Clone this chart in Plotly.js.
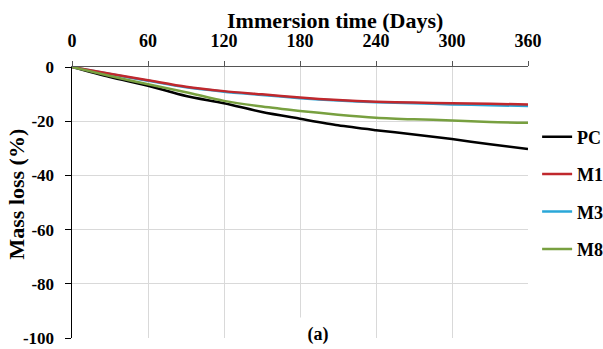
<!DOCTYPE html>
<html>
<head>
<meta charset="utf-8">
<script src="https://cdn.plot.ly/plotly-3.0.1.min.js"></script>
<style>
  html, body { margin: 0; padding: 0; background: #fff; }
  #chart { width: 603px; height: 349px; }
</style>
</head>
<body>
<div id="chart"></div>
<script>
// Immersion time in days
const days = [0, 30, 60, 90, 120, 150, 180, 210, 240, 270, 300, 330, 360];

// Mass loss (%) per mix
const massPC = [0, -3.7, -6.9, -10.7, -13.4, -16.6, -19.1, -21.5, -23.3, -24.9, -26.6, -28.5, -30.3];
const massM1 = [0, -2.5, -4.9, -7.3, -8.9, -10.1, -11.3, -12.2, -12.8, -13.1, -13.4, -13.6, -13.8];
const massM3 = [0, -2.6, -5.1, -7.5, -9.1, -10.3, -11.5, -12.4, -13.0, -13.4, -13.8, -14.1, -14.4];
const massM8 = [0, -3.3, -6.4, -9.3, -12.5, -14.6, -16.2, -17.6, -18.7, -19.3, -19.7, -20.3, -20.6];

const seriesNames = ['PC', 'M1', 'M3', 'M8'];
const seriesData = [massPC, massM1, massM3, massM8];
const seriesColors = ['#000000', '#c0282d', '#2aa7d8', '#78a040'];

const xTicks = [0, 60, 120, 180, 240, 300, 360];
const yTicks = [0, -20, -40, -60, -80, -100];

const font = 'Liberation Serif, Times New Roman, serif';

// M3 is drawn beneath M1, so the traces go in back-to-front order
const order = [0, 2, 1, 3];
const traces = [];
order.forEach(i => {
  traces.push({
    x: days,
    y: seriesData[i],
    name: seriesNames[i],
    legendgroup: seriesNames[i],
    type: 'scatter',
    mode: 'lines',
    line: { color: seriesColors[i], width: 2.5, shape: 'spline', smoothing: 0.8 },
    legendrank: i + 1
  });
});

const layout = {
  width: 603,
  height: 349,
  margin: { l: 72, r: 75, t: 67, b: 11, autoexpand: false },
  paper_bgcolor: '#ffffff',
  plot_bgcolor: '#ffffff',
  font: { family: font, color: '#000', size: 17 },
  showlegend: true,
  legend: {
    x: 1.02, xanchor: 'left',
    y: 0.81, yanchor: 'top',
    font: { family: font, size: 18, color: '#000', weight: 'bold' },
    tracegroupgap: 11,
    itemwidth: 30,
    bgcolor: 'rgba(0,0,0,0)'
  },
  xaxis: {
    side: 'top',
    range: [0, 360],
    tickvals: xTicks,
    ticktext: xTicks.map(String),
    showgrid: true,
    gridcolor: '#d9d9d9',
    gridwidth: 1,
    zeroline: false,
    showline: true,
    linecolor: '#555555',
    linewidth: 1.5,
    ticks: 'outside',
    ticklen: 5,
    tickcolor: '#555555',
    ticklabelstandoff: 6,
    ticklabeloverflow: 'allow',
    tickfont: { family: font, size: 18, color: '#000', weight: 'bold' },
    automargin: false,
    fixedrange: true
  },
  yaxis: {
    range: [-100, 0],
    tickvals: yTicks,
    ticktext: yTicks.map(String),
    showgrid: true,
    gridcolor: '#d9d9d9',
    gridwidth: 1,
    zeroline: false,
    showline: true,
    linecolor: '#000000',
    linewidth: 1.5,
    ticks: 'outside',
    ticklen: 6,
    tickcolor: '#000',
    ticklabelstandoff: 7,
    ticklabeloverflow: 'allow',
    tickfont: { family: font, size: 17, color: '#000', weight: 'bold' },
    automargin: false,
    fixedrange: true
  },
  annotations: [
    {
      // top axis title
      text: 'Immersion time (Days)',
      xref: 'paper', yref: 'paper',
      x: 0.577, y: 1.0, yshift: 47,
      xanchor: 'center', yanchor: 'middle',
      showarrow: false,
      font: { family: font, size: 22, color: '#000', weight: 'bold' }
    },
    {
      // left axis title
      text: 'Mass loss (%)',
      xref: 'paper', yref: 'paper',
      x: 0, xshift: -56, y: 0.5, yshift: 8,
      xanchor: 'center', yanchor: 'middle',
      textangle: -90,
      showarrow: false,
      font: { family: font, size: 22, color: '#000', weight: 'bold' }
    },
    {
      text: '(a)',
      xref: 'paper', yref: 'paper',
      x: 0.54, y: 0.0, yshift: 4,
      xanchor: 'center', yanchor: 'middle',
      width: 60, height: 20,
      showarrow: false,
      font: { family: font, size: 18, color: '#000', weight: 'bold' },
      bgcolor: '#ffffff',
      borderpad: 6
    }
  ]
};

Plotly.newPlot('chart', traces, layout, { staticPlot: true, displayModeBar: false });
</script>
</body>
</html>
